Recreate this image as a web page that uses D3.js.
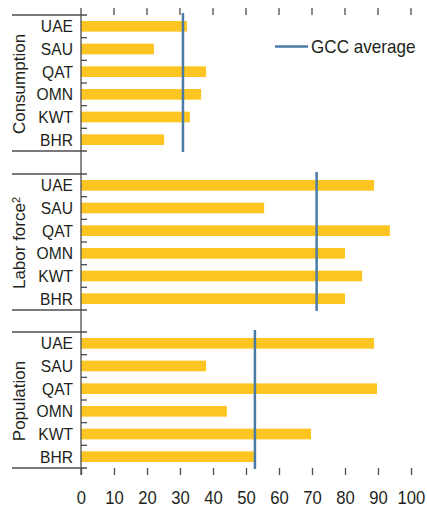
<!DOCTYPE html>
<html>
<head>
<meta charset="utf-8">
<script src="https://cdn.jsdelivr.net/npm/d3@7"></script>
<style>
  body { margin: 0; background: #fff; }
  text { font-family: "Liberation Sans", Arial, sans-serif; fill: #231f20; }
</style>
</head>
<body>
<script>
var countries = ["UAE", "SAU", "QAT", "OMN", "KWT", "BHR"]
var panels = ["Consumption", "Labor force", "Population"]
var consumption = [32.1, 22.1, 37.9, 36.4, 33.0, 25.2]
var laborForce = [88.8, 55.5, 93.6, 80.0, 85.2, 80.0]
var population = [88.8, 37.9, 89.7, 44.2, 69.7, 52.4]
var gccAverage = [30.9, 71.4, 52.7]
var xTicks = [0, 10, 20, 30, 40, 50, 60, 70, 80, 90, 100]

var series = [consumption, laborForce, population]

var w = 427
var h = 510
var yellow = "#fdc521"
var blue = "#4a7ba7"
var grey = "#4d4d4f"

var svg = d3.select("body").append("svg")
    .attr("width", w)
    .attr("height", h)

var x = d3.scaleLinear().domain([0, 100]).range([81, 411])

var panelTop = [15, 174, 332]
var panelH = 136

// top ticks
svg.append("g")
    .selectAll("line").data(xTicks.slice(1)).enter()
    .append("line")
    .attr("x1", function (d) { return x(d) })
    .attr("x2", function (d) { return x(d) })
    .attr("y1", 8)
    .attr("y2", 15)
    .attr("stroke", grey)
    .attr("stroke-width", 1.3)

panels.forEach(function (name, p) {
    var top = panelTop[p]
    var y = d3.scaleBand().domain(countries)
        .range([top, top + panelH])
        .paddingInner(0.53)
        .paddingOuter(0.265)

    var g = svg.append("g")

    g.selectAll("rect").data(series[p]).enter()
        .append("rect")
        .attr("x", x(0))
        .attr("y", function (d, i) { return y(countries[i]) })
        .attr("width", function (d) { return x(d) - x(0) })
        .attr("height", y.bandwidth())
        .attr("fill", yellow)

    // category labels (narrowed a bit to mimic the condensed face)
    g.selectAll("text.cat").data(countries).enter()
        .append("text")
        .attr("class", "cat")
        .attr("transform", function (d) {
            return "translate(73," + (y(d) + y.bandwidth() / 2) + ") scale(0.92,1)"
        })
        .attr("dy", "0.36em")
        .attr("text-anchor", "end")
        .style("font-size", "17px")
        .text(function (d) { return d })

    // small ticks between categories
    g.selectAll("line.sep").data(countries.slice(1)).enter()
        .append("line")
        .attr("x1", x(0))
        .attr("x2", x(0) + 6)
        .attr("y1", function (d) { return y(d) - y.step() * y.paddingInner() / 2 })
        .attr("y2", function (d) { return y(d) - y.step() * y.paddingInner() / 2 })
        .attr("stroke", grey)
        .attr("stroke-width", 1.3)

    // panel bounding lines
    ;[top, top + panelH].forEach(function (yy) {
        g.append("line")
            .attr("x1", 12).attr("x2", 87)
            .attr("y1", yy).attr("y2", yy)
            .attr("stroke", grey)
            .attr("stroke-width", 1.3)
    })

    // panel title
    var t = g.append("text")
        .attr("transform", "translate(25," + (top + panelH / 2 + 1) + ") rotate(-90)")
        .attr("text-anchor", "middle")
        .style("font-size", "17px")
        .text(name)
    if (p === 1) {
        t.append("tspan").attr("dy", "-0.5em").style("font-size", "11px").text("2")
    }

    // GCC average
    g.append("line")
        .attr("x1", x(gccAverage[p]))
        .attr("x2", x(gccAverage[p]))
        .attr("y1", top - 2)
        .attr("y2", top + panelH + 1)
        .attr("stroke", blue)
        .attr("stroke-width", 2.5)
})

// vertical axis line
svg.append("line")
    .attr("x1", x(0)).attr("x2", x(0))
    .attr("y1", 8).attr("y2", 475)
    .attr("stroke", grey)
    .attr("stroke-width", 1.3)

// bottom axis
var xAxis = d3.axisBottom(x)
    .tickValues(xTicks)
    .tickSize(7)
    .tickPadding(16)

var ax = svg.append("g")
    .attr("transform", "translate(0,468)")
    .call(xAxis)
ax.select(".domain").remove()
ax.selectAll("line").attr("stroke", grey).attr("stroke-width", 1.3)
ax.selectAll("text")
    .attr("transform", "scale(0.9,1)")
    .style("font-size", "18.5px")
    .style("font-family", "'Liberation Sans', Arial, sans-serif")
    .attr("fill", "#231f20")

// legend
svg.append("line")
    .attr("x1", 275).attr("x2", 308)
    .attr("y1", 46.5).attr("y2", 46.5)
    .attr("stroke", blue)
    .attr("stroke-width", 2.5)
svg.append("text")
    .attr("transform", "translate(311,52.5) scale(0.95,1)")
    .style("font-size", "18px")
    .text("GCC average")
</script>
</body>
</html>
